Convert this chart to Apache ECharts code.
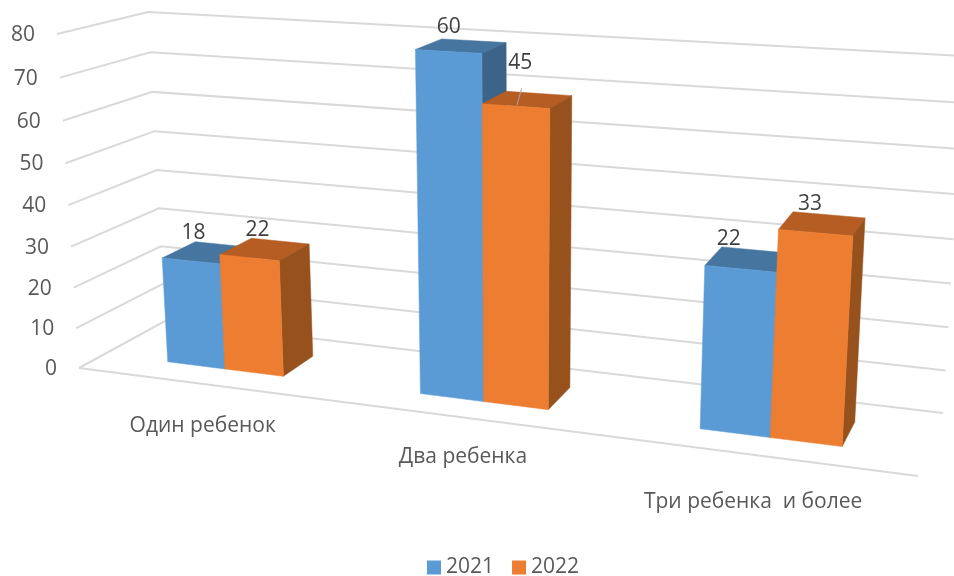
<!DOCTYPE html>
<html>
<head>
    <meta charset="utf-8">
    <title>Один, два, три ребенка</title>
    <style>
        html, body { margin: 0; padding: 0; background: #fff; }
    </style>
    <script src="https://cdn.jsdelivr.net/npm/echarts/dist/echarts.min.js"></script>
</head>
<body>
    <div id="chart" style="width: 954px; height: 576px;"></div>

    <script type="text/javascript">
        // data
        var categories = ['Один ребенок', 'Два ребенка', 'Три ребенка  и более'];
        var yTicks = [0, 10, 20, 30, 40, 50, 60, 70, 80];
        // bar heights as read against the gridlines (they do not agree with the printed labels)
        var heights2021 = [26, 79.5, 37];
        var heights2022 = [28.3, 68.5, 46.3];
        // numbers printed above the bars
        var printed2021 = [18, 60, 22];
        var printed2022 = [22, 45, 33];

        var FONT = '"Open Sans", "Noto Sans", sans-serif';

        // the 3D box: corners of the front and back planes, in pixels
        var frontPlane = quad([79, 368], [918, 476], [57, 34], [943, 89]);
        var backPlane = quad([165, 321], [943, 413], [148, 12], [965, 56]);
        var barFront = 0.3, barBack = 0.7;   // depth range of the bars
        var barShare = 0.235;                // bar width as a share of the category band

        // hand placement of the texts, in pixels
        var nudge2021 = [[-2, -9], [7, -12], [7, -8]];
        var nudge2022 = [[6, -8], [14, -28], [17, -8]];
        var categoryNudge = [[1, 42], [-3, 39], [-6, 46]];

        // unit square -> quad
        function quad(p00, p10, p01, p11) {
            var dx1 = p10[0] - p11[0], dx2 = p01[0] - p11[0], dx3 = p00[0] - p10[0] + p11[0] - p01[0];
            var dy1 = p10[1] - p11[1], dy2 = p01[1] - p11[1], dy3 = p00[1] - p10[1] + p11[1] - p01[1];
            var det = dx1 * dy2 - dx2 * dy1;
            var g = (dx3 * dy2 - dx2 * dy3) / det;
            var h = (dx1 * dy3 - dx3 * dy1) / det;
            var a = p10[0] - p00[0] + g * p10[0], b = p01[0] - p00[0] + h * p01[0];
            var d = p10[1] - p00[1] + g * p10[1], e = p01[1] - p00[1] + h * p01[1];
            return function (u, v) {
                var q = g * u + h * v + 1;
                return [(a * u + b * v + p00[0]) / q, (d * u + e * v + p00[1]) / q];
            };
        }

        function project(u, v, w) {
            var f = frontPlane(u, v), b = backPlane(u, v);
            return [f[0] + (b[0] - f[0]) * w, f[1] + (b[1] - f[1]) * w];
        }

        // pixel from the axes -> position in the box
        function toUnit(params, pt) {
            var c = params.coordSys;
            return [(pt[0] - c.x) / c.width, (c.y + c.height - pt[1]) / c.height];
        }

        function poly(points, fill) {
            return {
                type: 'polygon',
                shape: { points: points },
                style: { fill: fill, stroke: fill, lineWidth: 0.5 }
            };
        }

        function renderWalls(params, api) {
            var c = toUnit(params, api.coord([0, api.value(0)]));
            var v = c[1];
            var pts = [project(0, v, 0), project(0, v, 1), project(1, v, 1)];
            var lines = [{
                type: 'polyline',
                shape: { points: pts },
                style: { fill: 'none', stroke: '#d9d9d9', lineWidth: 2 }
            }];
            if (api.value(0) === 0) {
                lines.push({
                    type: 'line',
                    shape: { x1: pts[0][0], y1: pts[0][1], x2: project(1, 0, 0)[0], y2: project(1, 0, 0)[1] },
                    style: { stroke: '#d9d9d9', lineWidth: 2 }
                });
            }
            lines.push({
                type: 'text',
                style: {
                    text: String(api.value(0)), x: pts[0][0] - 22, y: pts[0][1] + 1,
                    fill: '#595959', font: '21px ' + FONT, align: 'right', verticalAlign: 'middle'
                }
            });
            return { type: 'group', children: lines };
        }

        function renderCategoryLabels(params, api) {
            var i = api.value(0);
            var c = toUnit(params, api.coord([i, 0]));
            var p = project(c[0], 0, 0);
            return {
                type: 'text',
                style: {
                    text: categories[i], x: p[0] + categoryNudge[i][0], y: p[1] + categoryNudge[i][1],
                    fill: '#595959', font: '21px ' + FONT, align: 'center', verticalAlign: 'middle'
                }
            };
        }

        function barRenderer(side, front, top, right, printed, nudge) {
            return function (params, api) {
                var i = api.value(0);
                var pt = api.coord([i, api.value(1)]);
                var unit = toUnit(params, pt);
                var band = api.size([1, 0])[0] * barShare / params.coordSys.width;
                var u0 = unit[0] + (side - 1) * band, u1 = u0 + band, v = unit[1];
                var top0 = project(u0, v, barBack);
                var kids = [
                    poly([project(u0, v, barFront), project(u1, v, barFront), project(u1, v, barBack), top0], top),
                    poly([project(u1, 0, barFront), project(u1, 0, barBack), project(u1, v, barBack), project(u1, v, barFront)], right),
                    poly([project(u0, 0, barFront), project(u1, 0, barFront), project(u1, v, barFront), project(u0, v, barFront)], front),
                    {
                        type: 'text',
                        z2: 10,
                        style: {
                            text: String(printed[i]), x: top0[0] + nudge[i][0], y: top0[1] + nudge[i][1],
                            fill: '#404040', font: '21px ' + FONT, align: 'center', verticalAlign: 'middle'
                        }
                    }
                ];
                // thin leader line of the "45" label
                if (side === 1 && i === 1) {
                    var a = project(u0 + band * 0.5, v, barFront + 0.02), b = project(u0 + band * 0.5, v + 0.04, barFront + 0.1);
                    kids.push({
                        type: 'line',
                        shape: { x1: a[0], y1: a[1], x2: b[0], y2: b[1] },
                        style: { stroke: '#a6a6a6', lineWidth: 1 }
                    });
                }
                return { type: 'group', children: kids };
            };
        }

        var chart = echarts.init(document.getElementById('chart'));

        var option = {
            animation: false,
            backgroundColor: '#fff',
            grid: { left: 0, top: 0, width: 954, height: 576 },
            xAxis: { type: 'category', data: categories, show: false },
            yAxis: { type: 'value', min: 0, max: 80, interval: 10, show: false },
            legend: {
                data: ['2021', '2022'],
                left: 422,
                top: 552,
                icon: 'rect',
                itemWidth: 14,
                itemHeight: 14,
                itemGap: 18,
                textStyle: { color: '#595959', fontFamily: FONT, fontSize: 21 }
            },
            series: [
                {
                    type: 'custom',
                    name: 'walls',
                    silent: true,
                    renderItem: renderWalls,
                    data: yTicks.map(function (t) { return [t]; })
                },
                {
                    type: 'custom',
                    name: 'categories',
                    silent: true,
                    renderItem: renderCategoryLabels,
                    data: categories.map(function (c, i) { return [i]; })
                },
                {
                    type: 'custom',
                    name: '2021',
                    itemStyle: { color: '#5b9bd5' },
                    renderItem: barRenderer(0, '#5b9bd5', '#4676a0', '#3c6488', printed2021, nudge2021),
                    encode: { x: 0, y: 1 },
                    data: heights2021.map(function (h, i) { return [i, h]; })
                },
                {
                    type: 'custom',
                    name: '2022',
                    itemStyle: { color: '#ed7d31' },
                    renderItem: barRenderer(1, '#ed7d31', '#b55d22', '#97511d', printed2022, nudge2022),
                    encode: { x: 0, y: 1 },
                    data: heights2022.map(function (h, i) { return [i, h]; })
                }
            ]
        };

        chart.setOption(option);
    </script>
</body>
</html>
